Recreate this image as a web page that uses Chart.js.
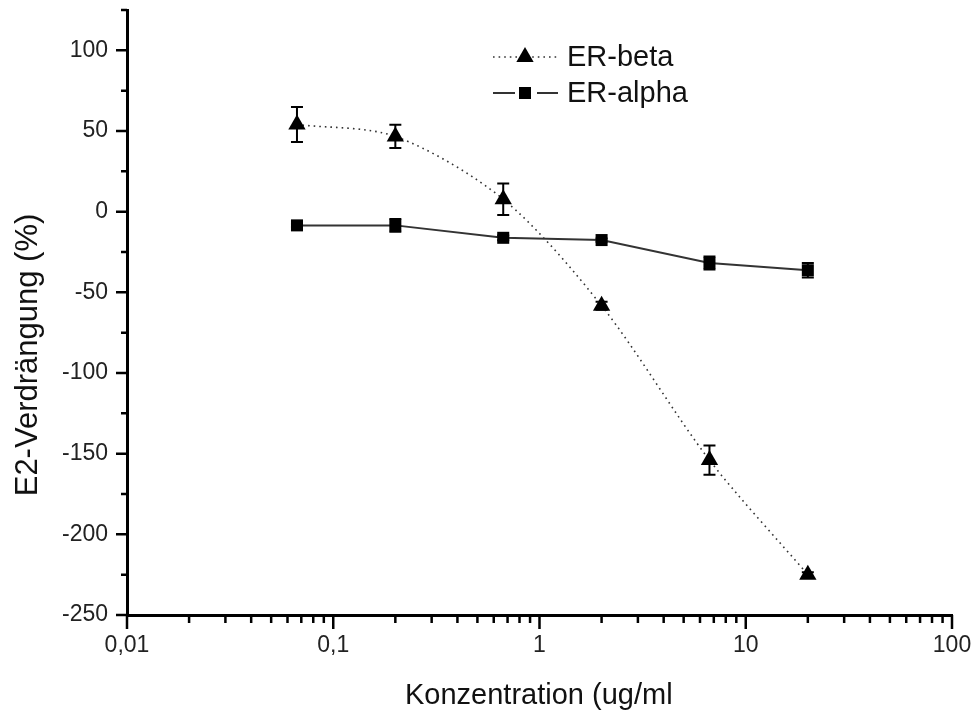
<!DOCTYPE html>
<html>
<head>
<meta charset="utf-8">
<script src="https://cdn.jsdelivr.net/npm/chart.js@4.4.1/dist/chart.umd.min.js"></script>
<style>
  html, body { margin: 0; background: #fff; }
  canvas { display: block; }
</style>
</head>
<body>
<canvas id="chart" width="976" height="713"></canvas>
<script>
const concentrations = [0.0667, 0.2, 0.667, 2, 6.67, 20];
const betaValues = [54, 46.6, 7.7, -58.3, -154, -225];
const betaErrors = [10.8, 7.2, 9.8, 2.5, 9, 1.5];
const alphaValues = [-8.5, -8.5, -16.2, -17.6, -31.8, -36.3];
const alphaErrors = [1, 4, 1.5, 1, 4, 4.5];
const seriesLabels = ["ER-beta", "ER-alpha"];
const xTickValues = [0.01, 0.1, 1, 10, 100];
const yTickValues = [-250, -200, -150, -100, -50, 0, 50, 100];
const yMinorValues = [-225, -175, -125, -75, -25, 25, 75, 125];
const xTitle = "Konzentration (ug/ml";
const yTitle = "E2-Verdrängung (%)";

const FONT = "'Liberation Sans', Arial, sans-serif";
const errorSets = [betaErrors, alphaErrors];

// error bars behind the symbols
const errorBars = {
  id: "errorBars",
  beforeDatasetsDraw(chart){
    const { ctx, scales: { x, y } } = chart;
    ctx.save();
    ctx.strokeStyle = "#000";
    ctx.lineWidth = 2;
    chart.data.datasets.forEach((ds, di) => {
      ds.data.forEach((p, i) => {
        const err = errorSets[di][i];
        const px = x.getPixelForValue(p.x);
        const top = y.getPixelForValue(p.y + err);
        const bot = y.getPixelForValue(p.y - err);
        ctx.beginPath();
        ctx.moveTo(px, top); ctx.lineTo(px, bot);
        ctx.moveTo(px - 6, top); ctx.lineTo(px + 6, top);
        ctx.moveTo(px - 6, bot); ctx.lineTo(px + 6, bot);
        ctx.stroke();
      });
    });
    ctx.restore();
  }
};

// outward major/minor tick marks, titles and the legend
const decorations = {
  id: "decorations",
  afterDraw(chart){
    const { ctx, chartArea: a, scales: { x, y } } = chart;
    ctx.save();
    ctx.strokeStyle = "#000";
    ctx.lineWidth = 2.5;
    ctx.beginPath();
    xTickValues.forEach(v => {
      const px = x.getPixelForValue(v);
      ctx.moveTo(px, a.bottom); ctx.lineTo(px, a.bottom + 14);
    });
    for (let d = 0.01; d < 99; d *= 10) {
      for (let m = 2; m < 10; m++) {
        const px = x.getPixelForValue(d * m);
        ctx.moveTo(px, a.bottom); ctx.lineTo(px, a.bottom + 8);
      }
    }
    yTickValues.forEach(v => {
      const py = y.getPixelForValue(v);
      ctx.moveTo(a.left, py); ctx.lineTo(a.left - 11, py);
    });
    yMinorValues.forEach(v => {
      const py = y.getPixelForValue(v);
      ctx.moveTo(a.left, py); ctx.lineTo(a.left - 6, py);
    });
    ctx.stroke();

    // axis titles
    ctx.fillStyle = "#111";
    ctx.font = `29px ${FONT}`;
    ctx.textAlign = "left";
    ctx.textBaseline = "alphabetic";
    ctx.fillText(xTitle, 405, 704);

    ctx.save();
    ctx.translate(37, 355);
    ctx.rotate(-Math.PI / 2);
    ctx.textAlign = "center";
    ctx.font = `31px ${FONT}`;
    ctx.fillText(yTitle, 0, 0);
    ctx.restore();

    // legend
    const rows = [57, 93];
    chart.data.datasets.forEach((ds, i) => {
      const ly = rows[i];
      ctx.save();
      ctx.strokeStyle = ds.borderColor;
      ctx.lineWidth = ds.borderWidth;
      ctx.setLineDash(ds.borderDash || []);
      ctx.beginPath();
      if (i === 0) {
        ctx.moveTo(493, ly); ctx.lineTo(558, ly);
      } else {
        ctx.moveTo(493, ly); ctx.lineTo(515, ly);
        ctx.moveTo(537, ly); ctx.lineTo(558, ly);
      }
      ctx.stroke();
      ctx.setLineDash([]);
      ctx.fillStyle = "#000";
      Chart.helpers.drawPoint(ctx, { pointStyle: ds.pointStyle, radius: ds.pointRadius, rotation: 0, borderWidth: 0 }, 525, ly);
      ctx.restore();
      ctx.fillStyle = "#111";
      ctx.font = `29px ${FONT}`;
      ctx.textAlign = "left";
      ctx.textBaseline = "middle";
      ctx.fillText(ds.label, 567, ly + 1);
    });
    ctx.restore();
  }
};

// fixed axis boxes so the plot area lands where the original has it
function noPadding(s){
  s.paddingTop = 0; s.paddingBottom = 0; s.paddingLeft = 0; s.paddingRight = 0;
}

new Chart(document.getElementById("chart"), {
  type: "line",
  data: {
    datasets: [
      {
        label: seriesLabels[0],
        data: concentrations.map((c, i) => ({ x: c, y: betaValues[i] })),
        borderColor: "#333",
        borderWidth: 1.6,
        borderDash: [1.6, 4],
        tension: 0.3,
        pointStyle: "triangle",
        pointRadius: 10,
        pointBackgroundColor: "#000",
        pointBorderWidth: 0,
      },
      {
        label: seriesLabels[1],
        data: concentrations.map((c, i) => ({ x: c, y: alphaValues[i] })),
        borderColor: "#333",
        borderWidth: 2,
        tension: 0,
        pointStyle: "rect",
        pointRadius: 8.5,
        pointBackgroundColor: "#000",
        pointBorderWidth: 0,
      },
    ],
  },
  options: {
    responsive: false,
    animation: false,
    devicePixelRatio: 1,
    layout: { padding: { left: 0, right: 24, top: 8, bottom: 0 } },
    plugins: { legend: { display: false }, tooltip: { enabled: false } },
    scales: {
      x: {
        type: "logarithmic",
        min: 0.01,
        max: 100,
        afterBuildTicks: s => { s.ticks = xTickValues.map(v => ({ value: v })); },
        afterFit: s => { s.height = 98; noPadding(s); },
        grid: { display: false, drawTicks: false },
        border: { display: true, color: "#000", width: 3 },
        ticks: {
          autoSkip: false, maxRotation: 0, padding: 17, color: "#222",
          font: { family: FONT, size: 23 },
          callback: v => String(v).replace(".", ","),
        },
      },
      y: {
        min: -250,
        max: 125,
        afterBuildTicks: s => { s.ticks = yTickValues.map(v => ({ value: v })); },
        afterFit: s => { s.width = 127; noPadding(s); },
        grid: { display: false, drawTicks: false },
        border: { display: true, color: "#000", width: 3 },
        ticks: {
          padding: 19, color: "#222",
          font: { family: FONT, size: 23 },
          callback: v => String(v),
        },
      },
    },
  },
  plugins: [errorBars, decorations],
});
</script>
</body>
</html>
